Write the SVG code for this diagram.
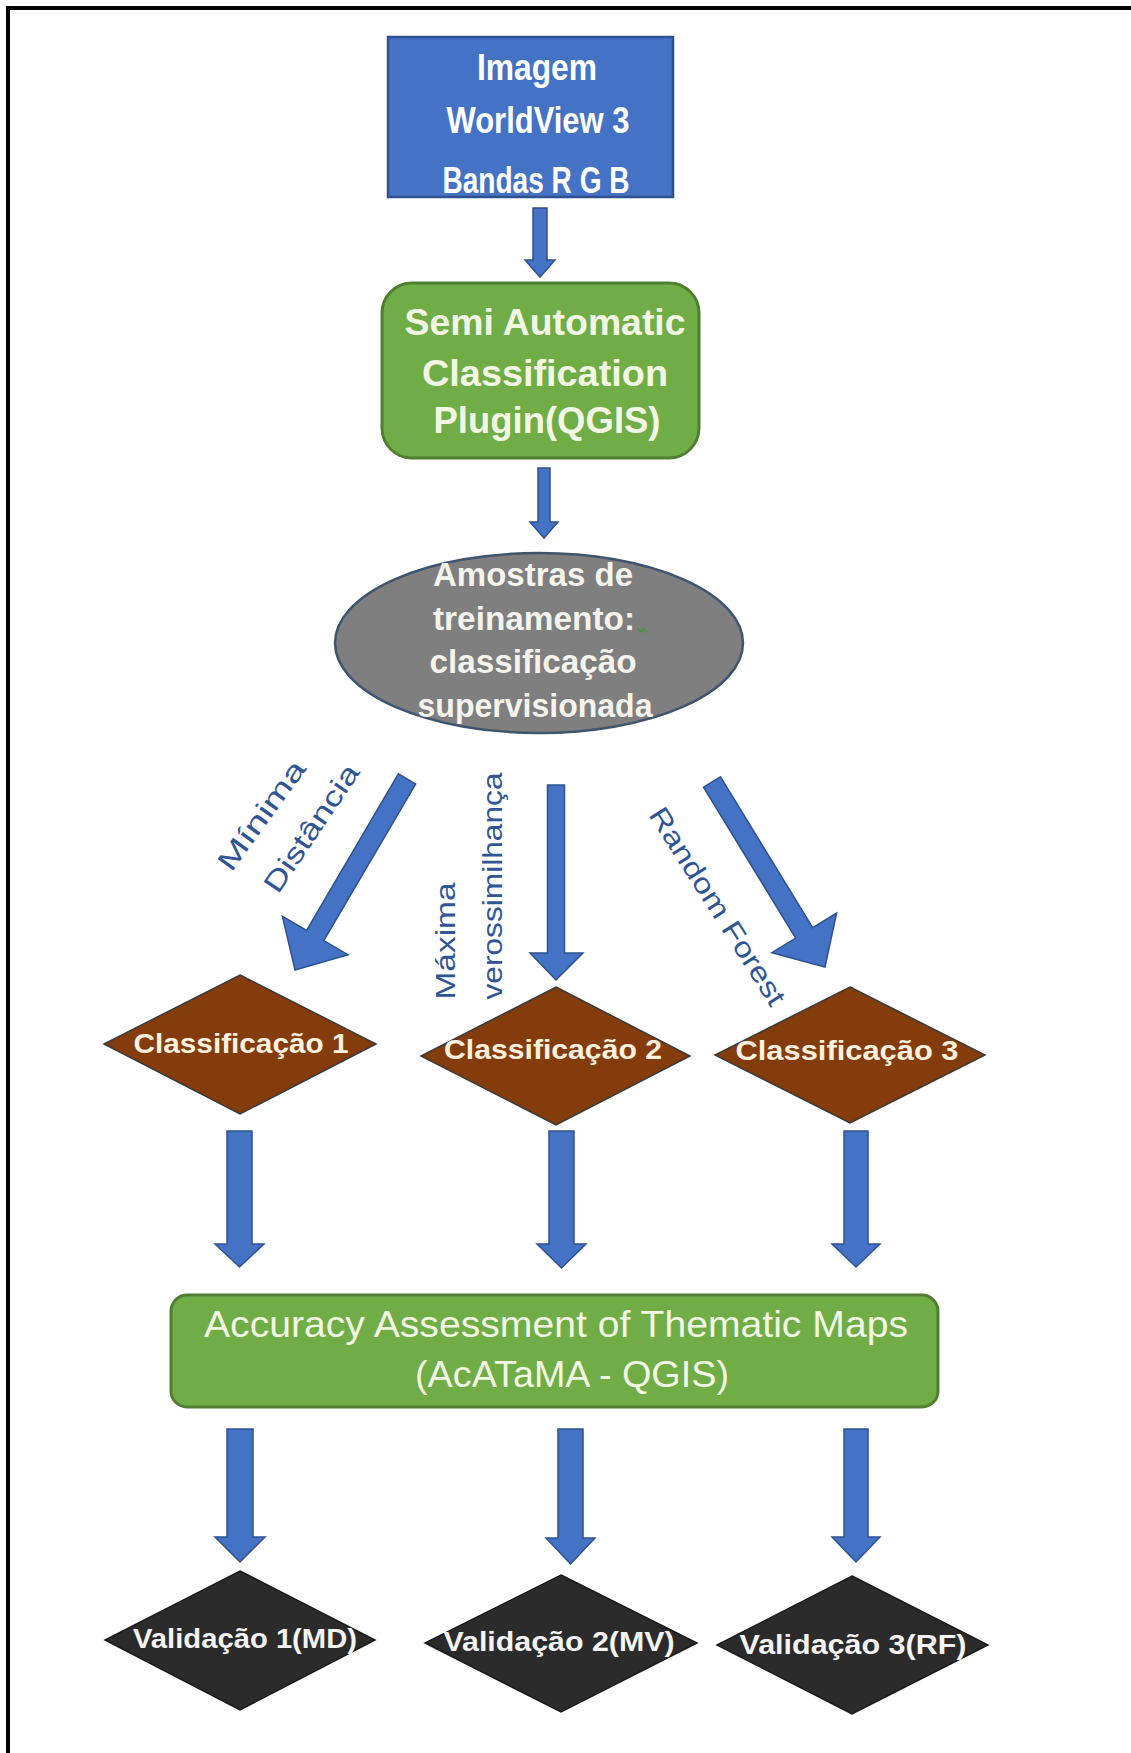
<svg xmlns="http://www.w3.org/2000/svg" width="1131" height="1753" viewBox="0 0 1131 1753">
<style>
  .bx { font-family: "Liberation Sans", Arial, sans-serif; font-weight: bold; text-anchor: middle; }
  .lbl { font-family: "Liberation Sans", Arial, sans-serif; fill: #2f5597; font-size: 28px; text-anchor: middle; }
  .arr { fill: #4472c4; stroke: #2f528f; stroke-width: 1.5; stroke-linejoin: miter; }
  .brown { fill: #843c0c; stroke: #3a3a3a; stroke-width: 1.5; }
  .dark { fill: #2b2b2b; stroke: #1a1a1a; stroke-width: 1.5; }
</style>
<defs>
  <clipPath id="clipBlue"><rect x="388" y="37" width="285" height="158"/></clipPath>
</defs>
<rect x="0" y="0" width="1131" height="1753" fill="#ffffff"/>
<!-- frame -->
<line x1="6" y1="8" x2="1131" y2="8" stroke="#000" stroke-width="4"/>
<line x1="8" y1="6" x2="8" y2="1753" stroke="#000" stroke-width="4"/>

<g id="connectors">
  <polygon class="arr" points="533,208 547,208 547,260 555,260 540,277 525,260 533,260"/>
  <polygon class="arr" points="538,468 550,468 550,522 558,522 544,538 530,522 538,522"/>
  <polygon class="arr" points="415.6,784.1 323.8,940.6 348,954.7 295,970 282.4,916.3 306.6,930.4 398.4,773.9"/>
  <polygon class="arr" points="547.5,785 564.5,785 564.5,953 583,953 556,980 530,953 547.5,953"/>
  <polygon class="arr" points="720.5,776.8 812.7,927.7 836.6,913.1 825,967 771.8,952.7 795.7,938.1 703.5,787.2"/>
  <polygon class="arr" points="227,1131 252,1131 252,1244 264,1244 239.5,1267 215,1244 227,1244"/>
  <polygon class="arr" points="549,1131 574,1131 574,1244 586,1244 561.5,1268 537,1244 549,1244"/>
  <polygon class="arr" points="844,1131 868,1131 868,1244 880,1244 856,1267 832,1244 844,1244"/>
  <polygon class="arr" points="227,1429 253,1429 253,1537 265,1537 240,1562 215,1537 227,1537"/>
  <polygon class="arr" points="558,1429 583,1429 583,1538 595,1538 570.5,1564 546,1538 558,1538"/>
  <polygon class="arr" points="844,1429 868,1429 868,1537 880,1537 856,1562 832,1537 844,1537"/>
  <g transform="translate(261,815) rotate(-54)"><text class="lbl" x="0" y="10" textLength="129" lengthAdjust="spacingAndGlyphs">Mínima</text></g>
  <g transform="translate(311,828) rotate(-56)"><text class="lbl" x="0" y="10" textLength="148" lengthAdjust="spacingAndGlyphs">Distância</text></g>
  <g transform="translate(445,941) rotate(-90)"><text class="lbl" x="0" y="10" textLength="117" lengthAdjust="spacingAndGlyphs">Máxima</text></g>
  <g transform="translate(492,886) rotate(-90)"><text class="lbl" x="0" y="10" textLength="227" lengthAdjust="spacingAndGlyphs">verossimilhança</text></g>
  <g transform="translate(718,906) rotate(57.5)"><text class="lbl" x="0" y="10" textLength="229" lengthAdjust="spacingAndGlyphs">Random Forest</text></g>
</g>

<g id="n-imagem">
  <rect x="388" y="37" width="285" height="160" fill="#4472c4" stroke="#2f528f" stroke-width="2.5"/>
  <g clip-path="url(#clipBlue)" class="bx" fill="#ffffff" font-size="37">
    <text x="537" y="80" textLength="120" lengthAdjust="spacingAndGlyphs">Imagem</text>
    <text x="538" y="133" textLength="183" lengthAdjust="spacingAndGlyphs">WorldView 3</text>
    <text x="536" y="193" textLength="187" lengthAdjust="spacingAndGlyphs">Bandas R G B</text>
  </g>
</g>

<g id="n-scp">
  <rect x="382" y="283" width="317" height="175" rx="30" ry="30" fill="#70ad47" stroke="#507e32" stroke-width="3"/>
  <g class="bx" fill="#f2f7e4" font-size="37">
    <text x="545" y="335" textLength="281" lengthAdjust="spacingAndGlyphs">Semi Automatic</text>
    <text x="545" y="386" textLength="246" lengthAdjust="spacingAndGlyphs">Classification</text>
    <text x="547" y="433" textLength="227" lengthAdjust="spacingAndGlyphs">Plugin(QGIS)</text>
  </g>
</g>

<g id="n-amostras">
  <ellipse cx="539" cy="643" rx="204" ry="90" fill="#7f7f7f" stroke="#3e5570" stroke-width="2.5"/>
  <g class="bx" fill="#f4f4ec" font-size="33">
    <text x="533" y="586" textLength="200" lengthAdjust="spacingAndGlyphs">Amostras de</text>
    <text x="534" y="630" textLength="202" lengthAdjust="spacingAndGlyphs">treinamento:</text>
    <text x="533" y="673" textLength="207" lengthAdjust="spacingAndGlyphs">classificação</text>
    <text x="535" y="717" textLength="235" lengthAdjust="spacingAndGlyphs">supervisionada</text>
  </g>
  <path d="M637,628 l4,4 l3,-3 l3,3" fill="none" stroke="#3a9a3a" stroke-width="1.5"/>
</g>

<g id="n-class1">
  <polygon class="brown" points="240,975 376,1044 240,1114 104,1044"/>
  <text class="bx" x="241" y="1053" fill="#fdf1df" font-size="27" textLength="215" lengthAdjust="spacingAndGlyphs">Classificação 1</text>
</g>
<g id="n-class2">
  <polygon class="brown" points="556,987 690,1056 556,1125 421,1056"/>
  <text class="bx" x="553" y="1059" fill="#fdf1df" font-size="27" textLength="218" lengthAdjust="spacingAndGlyphs">Classificação 2</text>
</g>
<g id="n-class3">
  <polygon class="brown" points="850,987 985,1055 850,1123 715,1055"/>
  <text class="bx" x="847" y="1060" fill="#fdf1df" font-size="27" textLength="223" lengthAdjust="spacingAndGlyphs">Classificação 3</text>
</g>

<g id="n-acatama">
  <rect x="171" y="1295" width="767" height="112" rx="16" ry="16" fill="#70ad47" stroke="#507e32" stroke-width="3"/>
  <g font-family="'Liberation Sans', Arial, sans-serif" text-anchor="middle" fill="#f2f7e4" font-size="37">
    <text x="556" y="1337" textLength="704" lengthAdjust="spacingAndGlyphs">Accuracy Assessment of Thematic Maps</text>
    <text x="572" y="1387" textLength="314" lengthAdjust="spacingAndGlyphs">(AcATaMA - QGIS)</text>
  </g>
</g>

<g id="n-val1">
  <polygon class="dark" points="240,1571 375,1640 240,1710 105,1640"/>
  <text class="bx" x="245" y="1648" fill="#f4f4f4" font-size="27" textLength="224" lengthAdjust="spacingAndGlyphs">Validação 1(MD)</text>
</g>
<g id="n-val2">
  <polygon class="dark" points="561,1575 697,1643 561,1712 425,1643"/>
  <text class="bx" x="559" y="1651" fill="#f4f4f4" font-size="27" textLength="231" lengthAdjust="spacingAndGlyphs">Validação 2(MV)</text>
</g>
<g id="n-val3">
  <polygon class="dark" points="852,1576 988,1645 852,1714 717,1645"/>
  <text class="bx" x="853" y="1654" fill="#f4f4f4" font-size="27" textLength="227" lengthAdjust="spacingAndGlyphs">Validação 3(RF)</text>
</g>
</svg>
